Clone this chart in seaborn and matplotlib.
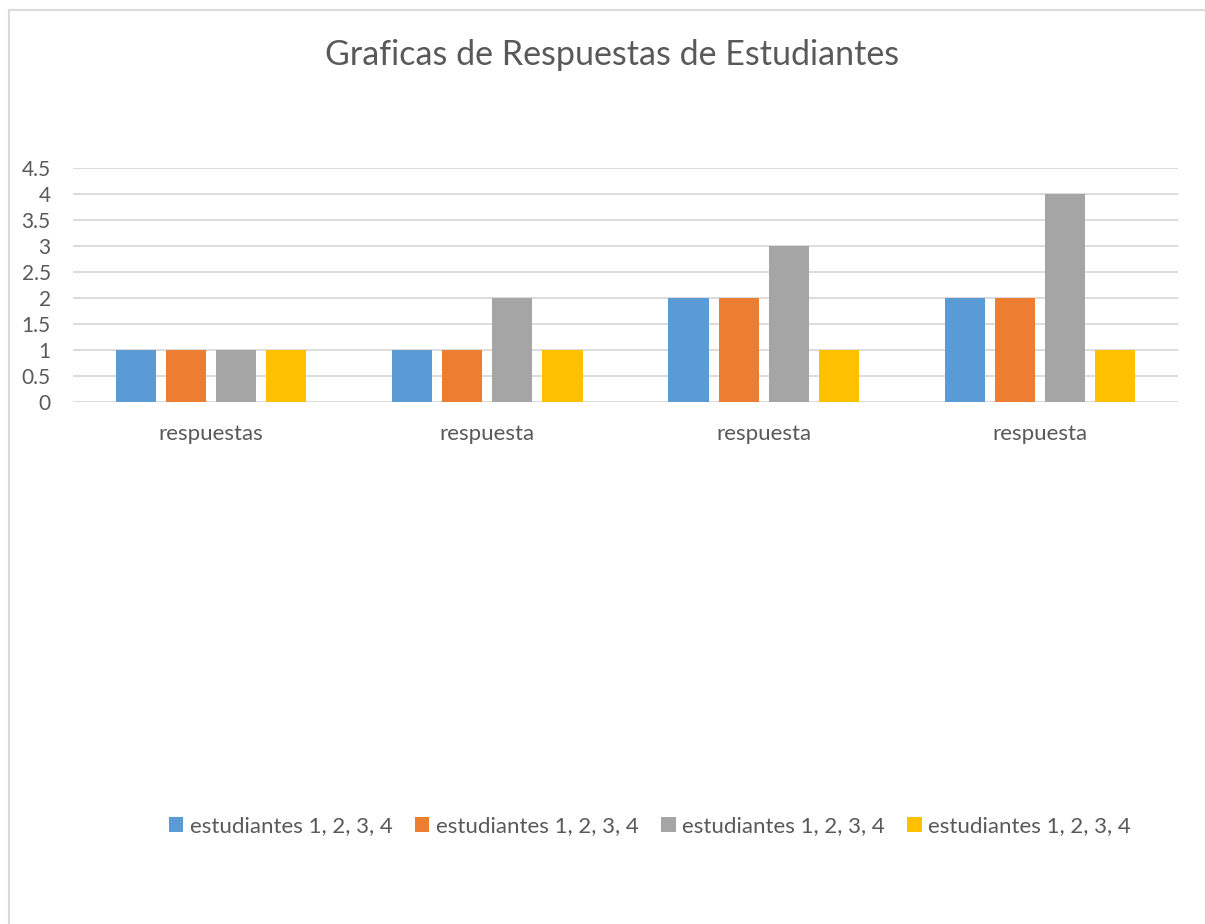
import matplotlib
matplotlib.use("Agg")
import matplotlib.pyplot as plt
from matplotlib.lines import Line2D
from matplotlib.patches import Patch
import seaborn as sns
import pandas as pd

# ── data ─────────────────────────────────────────────────────────────────────
categories = ["respuestas", "respuesta", "respuesta", "respuesta"]
series_keys = ["serie 1", "serie 2", "serie 3", "serie 4"]
legend_labels = ["estudiantes 1, 2, 3, 4"] * 4
serie_1 = [1, 1, 2, 2]
serie_2 = [1, 1, 2, 2]
serie_3 = [1, 2, 3, 4]
serie_4 = [1, 1, 1, 1]
yticks = [0, 0.5, 1, 1.5, 2, 2.5, 3, 3.5, 4, 4.5]
ytick_labels = ["0", "0.5", "1", "1.5", "2", "2.5", "3", "3.5", "4", "4.5"]

COLORS = ["#5B9BD5", "#ED7D31", "#A5A5A5", "#FFC000"]
TEXT = "#595959"
GRID = "#D9D9D9"

rows = []
for key, vals in zip(series_keys, [serie_1, serie_2, serie_3, serie_4]):
    for i, v in enumerate(vals):
        rows.append({"pos": i, "serie": key, "valor": v})
df = pd.DataFrame(rows)

sns.set_style("white")
plt.rcParams["font.family"] = ["Lato", "DejaVu Sans"]

fig = plt.figure(figsize=(12.05, 9.24), dpi=100)
ax = fig.add_axes([73 / 1205, 1 - 402 / 924, (1178 - 73) / 1205, (402 - 167.5) / 924])

sns.barplot(data=df, x="pos", y="valor", hue="serie", hue_order=series_keys,
            palette=COLORS, saturation=1, width=0.725, gap=0.2,
            linewidth=0, ax=ax, legend=False)

ax.set_ylim(0, 4.5)
ax.set_xlim(-0.5, 3.5)
ax.set_yticks(yticks)
ax.set_yticklabels(ytick_labels)
ax.set_xticks(range(len(categories)))
ax.set_xticklabels(categories)
ax.set_xlabel(""); ax.set_ylabel("")
ax.grid(axis="y", color=GRID, lw=1.3)
ax.set_axisbelow(True)
for s in ax.spines.values():
    s.set_visible(False)
ax.tick_params(axis="both", length=0, colors=TEXT)
ax.tick_params(axis="y", pad=16, labelsize=15)
ax.tick_params(axis="x", pad=16, labelsize=16)

fig.text(612 / 1205, 1 - 55 / 924, "Graficas de Respuestas de Estudiantes",
         ha="center", va="center", fontsize=24.5, color=TEXT)

handles = [Patch(facecolor=c, edgecolor="none") for c in COLORS]
fig.legend(handles, legend_labels, loc="center", ncol=4,
           bbox_to_anchor=(650 / 1205, 1 - 826 / 924), frameon=False,
           fontsize=16, labelcolor=TEXT, handlelength=0.65, handleheight=0.65,
           handletextpad=0.3, columnspacing=1.0)

# chart frame (left and top edges visible)
fig.add_artist(Line2D([8.5 / 1205, 8.5 / 1205], [0, 1 - 9.5 / 924],
                      transform=fig.transFigure, color=GRID, lw=1.5))
fig.add_artist(Line2D([8.5 / 1205, 1], [1 - 9.5 / 924, 1 - 9.5 / 924],
                      transform=fig.transFigure, color=GRID, lw=1.5))

fig.savefig("out.png", dpi=100)
plt.close()
